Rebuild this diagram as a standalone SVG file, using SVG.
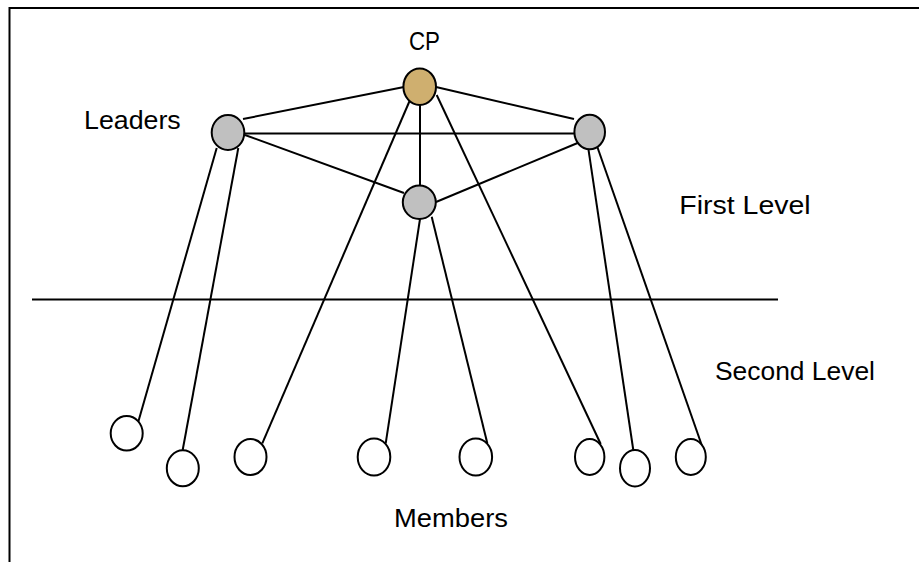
<svg xmlns="http://www.w3.org/2000/svg" width="919" height="562" viewBox="0 0 919 562">
<style>
.lbl{font-family:"Liberation Sans",Arial,sans-serif;font-size:25px;fill:#000}
.edge{stroke:#000;stroke-width:2;fill:none}
.node{stroke:#000;stroke-width:2}
.cp{fill:#CFAF6F}
.lead{fill:#C0C0C0}
.mem{fill:#FFFFFF}
</style>
<rect x="0" y="0" width="919" height="562" fill="#FFFFFF"/>
<path d="M9.5 563 V8 H920" stroke="#000" stroke-width="2" fill="none"/>
<line x1="32" y1="299.5" x2="778" y2="299.5" stroke="#000" stroke-width="2"/>
<g id="connectors" class="edge">
<line x1="404" y1="87" x2="243" y2="119"/>
<line x1="436" y1="87" x2="574" y2="119"/>
<line x1="244" y1="133.5" x2="574" y2="133.5"/>
<line x1="245" y1="135" x2="404" y2="193"/>
<line x1="580" y1="142" x2="436" y2="202"/>
<line x1="420" y1="105" x2="420" y2="186"/>
<line x1="410" y1="100" x2="262.3" y2="443.3"/>
<line x1="436.7" y1="95" x2="600.7" y2="444"/>
<line x1="420" y1="219" x2="385.7" y2="443.3"/>
<line x1="431.7" y1="216.7" x2="487.3" y2="443.3"/>
<line x1="216.7" y1="148" x2="138.3" y2="421.7"/>
<line x1="238.3" y1="148" x2="182.7" y2="450"/>
<line x1="588.3" y1="148.3" x2="633.3" y2="450"/>
<line x1="597" y1="146" x2="701.7" y2="445"/>
</g>
<g id="cp">
<ellipse class="node cp" cx="419.7" cy="86.7" rx="16.3" ry="18.3"/>
<text class="lbl" x="409" y="50" textLength="31" lengthAdjust="spacingAndGlyphs">CP</text>
</g>
<g id="leader-left">
<ellipse class="node lead" cx="228" cy="132.5" rx="16.3" ry="17.5"/>
</g>
<g id="leader-right">
<ellipse class="node lead" cx="589.7" cy="132" rx="15.3" ry="17.3"/>
</g>
<g id="leader-center">
<ellipse class="node lead" cx="419.3" cy="202.3" rx="16.5" ry="16.7"/>
</g>
<g id="member-1"><ellipse class="node mem" cx="126.7" cy="433.3" rx="16" ry="17.3"/></g>
<g id="member-2"><ellipse class="node mem" cx="182.8" cy="468.3" rx="16" ry="18"/></g>
<g id="member-3"><ellipse class="node mem" cx="250.5" cy="457" rx="16" ry="18"/></g>
<g id="member-4"><ellipse class="node mem" cx="374" cy="457" rx="16.3" ry="18.5"/></g>
<g id="member-5"><ellipse class="node mem" cx="475.8" cy="457" rx="16.3" ry="18.5"/></g>
<g id="member-6"><ellipse class="node mem" cx="589.7" cy="457" rx="14.7" ry="18"/></g>
<g id="member-7"><ellipse class="node mem" cx="635" cy="468.3" rx="15" ry="18.3"/></g>
<g id="member-8"><ellipse class="node mem" cx="690.8" cy="457" rx="15" ry="18"/></g>
<g id="labels">
<text class="lbl" x="84" y="129.3" textLength="96.7" lengthAdjust="spacingAndGlyphs">Leaders</text>
<text class="lbl" x="679.3" y="214.3" textLength="131.4" lengthAdjust="spacingAndGlyphs">First Level</text>
<text class="lbl" x="715" y="380" textLength="160" lengthAdjust="spacingAndGlyphs">Second Level</text>
<text class="lbl" x="394" y="526.7" textLength="114" lengthAdjust="spacingAndGlyphs">Members</text>
</g>
</svg>
